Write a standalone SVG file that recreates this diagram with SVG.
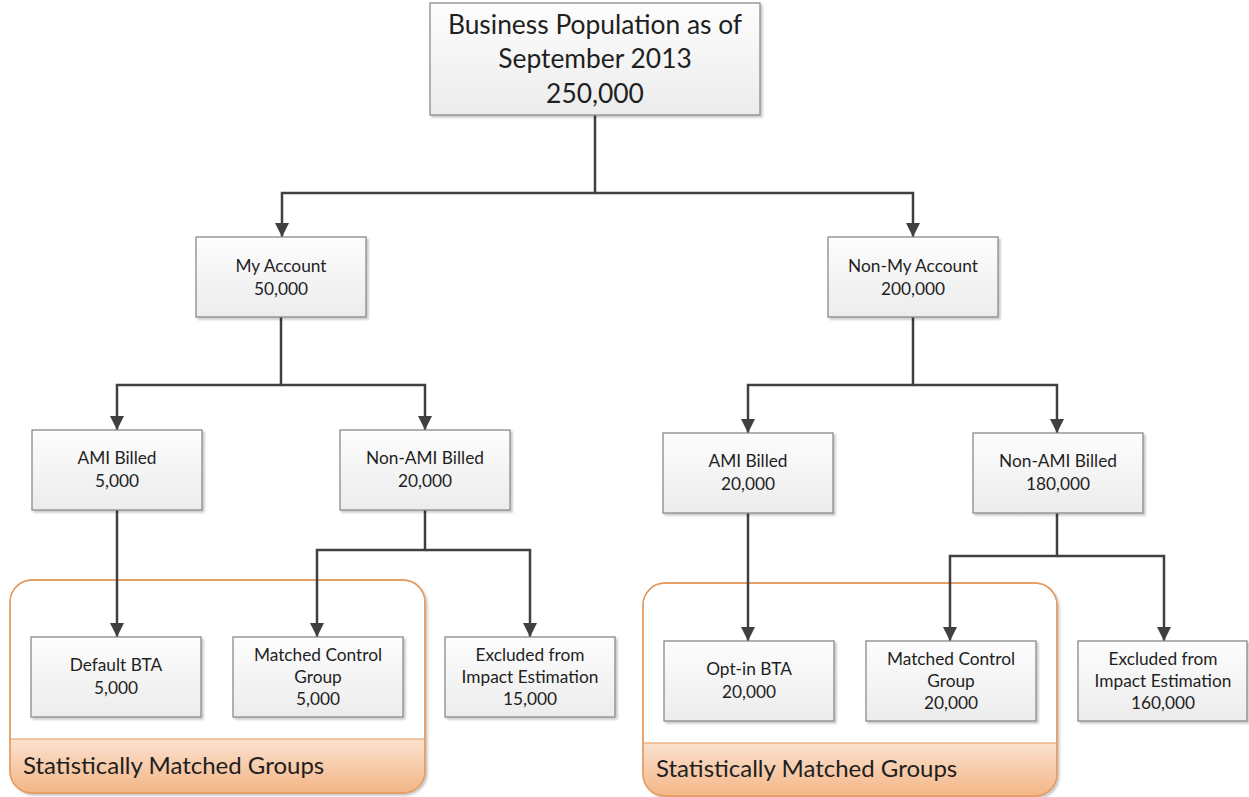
<svg xmlns="http://www.w3.org/2000/svg" width="1249" height="797" viewBox="0 0 1249 797">
<defs>
<linearGradient id="boxg" x1="0" y1="0" x2="0" y2="1">
<stop offset="0" stop-color="#fdfdfd"/>
<stop offset="1" stop-color="#ececec"/>
</linearGradient>
<linearGradient id="bandg" x1="0" y1="0" x2="0" y2="1">
<stop offset="0" stop-color="#fbe2d0"/>
<stop offset="1" stop-color="#f2b07c"/>
</linearGradient>
<filter id="sh" x="-10%" y="-10%" width="130%" height="140%">
<feDropShadow dx="2" dy="2" stdDeviation="1.2" flood-color="#000" flood-opacity="0.22"/>
</filter>
<marker id="ah" viewBox="0 0 14 14" refX="14" refY="7" markerWidth="14" markerHeight="14" markerUnits="userSpaceOnUse" orient="auto">
<path d="M0,0 L14,7 L0,14 Z" fill="#404040"/>
</marker>
<clipPath id="c1"><rect x="10" y="580" width="415" height="213" rx="22"/></clipPath>
<clipPath id="c2"><rect x="643" y="583" width="414" height="213" rx="22"/></clipPath>
</defs>
<style>
.box{fill:url(#boxg);stroke:#8a8a8a;stroke-width:1.3;filter:url(#sh)}
.t{font-family:Lato,"Open Sans",sans-serif;font-size:17.3px;fill:#1f1f1f;text-anchor:middle}
.tt{font-family:Lato,"Open Sans",sans-serif;font-size:26.4px;fill:#1f1f1f;text-anchor:middle}
.gl{font-family:Lato,"Open Sans",sans-serif;font-size:24px;fill:#1f1f1f}
.cn{fill:none;stroke:#404040;stroke-width:2.5}
.grp{fill:#fff;stroke:#e39a5f;stroke-width:1.3;filter:url(#sh)}
.band{fill:url(#bandg);stroke:#e39a5f;stroke-width:1}
</style>

<g id="group-left">
<rect class="grp" x="10" y="580" width="415" height="213" rx="22"/>
<rect class="band" x="10" y="739" width="415" height="60" clip-path="url(#c1)"/>
<rect x="10" y="580" width="415" height="213" rx="22" fill="none" stroke="#e39a5f" stroke-width="1.3"/>
<text class="gl" x="23" y="774">Statistically Matched Groups</text>
</g>
<g id="group-right">
<rect class="grp" x="643" y="583" width="414" height="213" rx="22"/>
<rect class="band" x="643" y="743" width="414" height="60" clip-path="url(#c2)"/>
<rect x="643" y="583" width="414" height="213" rx="22" fill="none" stroke="#e39a5f" stroke-width="1.3"/>
<text class="gl" x="656" y="777">Statistically Matched Groups</text>
</g>

<g id="connectors">
<path class="cn" d="M595,115 V193 H282 V237" marker-end="url(#ah)"/>
<path class="cn" d="M595,193 H913 V237" marker-end="url(#ah)"/>
<path class="cn" d="M281,317 V385 H117 V430" marker-end="url(#ah)"/>
<path class="cn" d="M281,385 H425 V430" marker-end="url(#ah)"/>
<path class="cn" d="M913,317 V385 H748 V433" marker-end="url(#ah)"/>
<path class="cn" d="M913,385 H1057 V433" marker-end="url(#ah)"/>
<path class="cn" d="M117,510 V637" marker-end="url(#ah)"/>
<path class="cn" d="M425,510 V550 H317 V637" marker-end="url(#ah)"/>
<path class="cn" d="M425,550 H530 V637" marker-end="url(#ah)"/>
<path class="cn" d="M748,513 V641" marker-end="url(#ah)"/>
<path class="cn" d="M1057,513 V556 H950 V641" marker-end="url(#ah)"/>
<path class="cn" d="M1057,556 H1164 V641" marker-end="url(#ah)"/>
</g>

<g id="n-top">
<rect class="box" x="430" y="3" width="330" height="112"/>
<text class="tt" x="595" y="34">Business Population as of</text>
<text class="tt" x="595" y="68">September 2013</text>
<text class="tt" x="595" y="103">250,000</text>
</g>
<g id="n-myaccount">
<rect class="box" x="196" y="237" width="170" height="80"/>
<text class="t" x="281" y="272">My Account</text>
<text class="t" x="281" y="295">50,000</text>
</g>
<g id="n-nonmyaccount">
<rect class="box" x="828" y="237" width="170" height="80"/>
<text class="t" x="913" y="272">Non-My Account</text>
<text class="t" x="913" y="295">200,000</text>
</g>
<g id="n-ami-left">
<rect class="box" x="32" y="430" width="170" height="80"/>
<text class="t" x="117" y="464">AMI Billed</text>
<text class="t" x="117" y="487">5,000</text>
</g>
<g id="n-nonami-left">
<rect class="box" x="340" y="430" width="170" height="80"/>
<text class="t" x="425" y="464">Non-AMI Billed</text>
<text class="t" x="425" y="487">20,000</text>
</g>
<g id="n-ami-right">
<rect class="box" x="663" y="433" width="170" height="80"/>
<text class="t" x="748" y="467">AMI Billed</text>
<text class="t" x="748" y="490">20,000</text>
</g>
<g id="n-nonami-right">
<rect class="box" x="973" y="433" width="170" height="80"/>
<text class="t" x="1058" y="467">Non-AMI Billed</text>
<text class="t" x="1058" y="490">180,000</text>
</g>
<g id="n-default-bta">
<rect class="box" x="31" y="637" width="170" height="80"/>
<text class="t" x="116" y="671">Default BTA</text>
<text class="t" x="116" y="694">5,000</text>
</g>
<g id="n-matched-left">
<rect class="box" x="233" y="637" width="170" height="80"/>
<text class="t" x="318" y="661">Matched Control</text>
<text class="t" x="318" y="683">Group</text>
<text class="t" x="318" y="705">5,000</text>
</g>
<g id="n-excluded-left">
<rect class="box" x="445" y="637" width="170" height="80"/>
<text class="t" x="530" y="661">Excluded from</text>
<text class="t" x="530" y="683">Impact Estimation</text>
<text class="t" x="530" y="705">15,000</text>
</g>
<g id="n-optin-bta">
<rect class="box" x="664" y="641" width="170" height="80"/>
<text class="t" x="749" y="675">Opt-in BTA</text>
<text class="t" x="749" y="698">20,000</text>
</g>
<g id="n-matched-right">
<rect class="box" x="866" y="641" width="170" height="80"/>
<text class="t" x="951" y="665">Matched Control</text>
<text class="t" x="951" y="687">Group</text>
<text class="t" x="951" y="709">20,000</text>
</g>
<g id="n-excluded-right">
<rect class="box" x="1078" y="641" width="169" height="80"/>
<text class="t" x="1163" y="665">Excluded from</text>
<text class="t" x="1163" y="687">Impact Estimation</text>
<text class="t" x="1163" y="709">160,000</text>
</g>
</svg>
